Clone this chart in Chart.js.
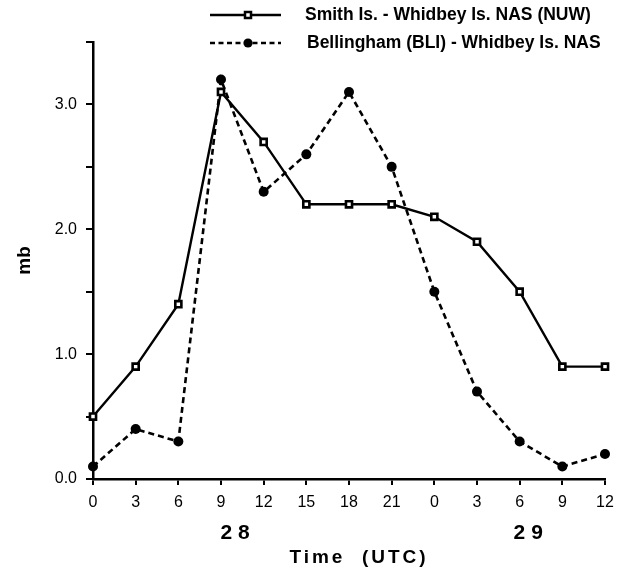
<!DOCTYPE html>
<html><head><meta charset="utf-8">
<script src="https://cdn.jsdelivr.net/npm/chart.js@4/dist/chart.umd.min.js"></script>
<style>html,body{margin:0;padding:0;background:#fff}#wrap{width:623px;height:572px}</style>
</head><body><div id="wrap"><canvas id="c" width="623" height="572"></canvas></div>
<script>
const hourLabels = ['0','3','6','9','12','15','18','21','0','3','6','9','12'];
const smithValues = [0.5, 0.9, 1.4, 3.1, 2.7, 2.2, 2.2, 2.2, 2.1, 1.9, 1.5, 0.9, 0.9];
const bellinghamValues = [0.1, 0.4, 0.3, 3.2, 2.3, 2.6, 3.1, 2.5, 1.5, 0.7, 0.3, 0.1, 0.2];
const dayLabels = ['28', '29'];
const seriesNames = ['Smith Is. - Whidbey Is. NAS (NUW)', 'Bellingham (BLI) - Whidbey Is. NAS'];
const xTitle = 'Time  (UTC)';
const yTitle = 'mb';

const FF = '"Liberation Sans", Arial, Helvetica, sans-serif';

const annot = {
  id: 'annot',
  afterDraw(chart) {
    const ctx = chart.ctx;
    const xs = chart.scales.x;
    ctx.save();
    // legend
    const rows = [
      {y: 15, dash: [], tx: 305},
      {y: 43, dash: [5, 3.5], tx: 307}
    ];
    rows.forEach((r, i) => {
      ctx.strokeStyle = '#000';
      ctx.lineWidth = 2.3;
      ctx.setLineDash(r.dash);
      ctx.beginPath(); ctx.moveTo(210, r.y); ctx.lineTo(281, r.y); ctx.stroke();
      ctx.setLineDash([]);
      if (i === 0) {
        ctx.fillStyle = '#fff';
        ctx.fillRect(245, r.y - 3, 6, 6);
        ctx.lineWidth = 2.5;
        ctx.strokeRect(245, r.y - 3, 6, 6);
      } else {
        ctx.fillStyle = '#000';
        ctx.beginPath(); ctx.arc(248, r.y, 4.6, 0, Math.PI * 2); ctx.fill();
      }
      ctx.fillStyle = '#000';
      ctx.font = 'bold 17.5px ' + FF;
      ctx.textAlign = 'left';
      ctx.textBaseline = 'middle';
      ctx.fillText(seriesNames[i], r.tx, r.y);
    });
    // day labels
    ctx.font = 'bold 21px ' + FF;
    ctx.textAlign = 'center';
    ctx.textBaseline = 'middle';
    ctx.letterSpacing = '6px';
    const dayPos = [3.33, 10.2];
    dayLabels.forEach((d, i) => {
      ctx.fillText(d, xs.getPixelForValue(dayPos[i]) + 3, 533);
    });
    // x title
    ctx.font = 'bold 19px ' + FF;
    ctx.letterSpacing = '3px';
    ctx.fillText(xTitle, xs.getPixelForValue(6.2) + 1.5, 558);
    ctx.letterSpacing = '0px';
    ctx.restore();
  }
};

new Chart(document.getElementById('c'), {
  type: 'line',
  data: {
    labels: hourLabels,
    datasets: [
      {
        label: seriesNames[0],
        data: smithValues,
        borderColor: '#000',
        borderWidth: 2.4,
        backgroundColor: '#fff',
        pointStyle: 'rect',
        pointRadius: 4.3,
        pointBorderWidth: 2.6,
        pointBackgroundColor: '#fff',
        pointBorderColor: '#000',
        tension: 0,
        fill: false,
        clip: false
      },
      {
        label: seriesNames[1],
        data: bellinghamValues,
        borderColor: '#000',
        borderWidth: 2.6,
        borderDash: [6, 4],
        pointStyle: 'circle',
        pointRadius: 5,
        pointBorderWidth: 0,
        pointBackgroundColor: '#000',
        pointBorderColor: '#000',
        tension: 0,
        fill: false,
        clip: false
      }
    ]
  },
  options: {
    responsive: false,
    animation: false,
    devicePixelRatio: 1,
    layout: {padding: {top: 42, right: 18, left: 0, bottom: 0}},
    plugins: {legend: {display: false}, tooltip: {enabled: false}},
    scales: {
      x: {
        type: 'category',
        offset: false,
        grid: {display: true, drawOnChartArea: false, drawTicks: true, tickLength: 6, color: '#000', lineWidth: 2},
        border: {display: true, color: '#000', width: 2.5},
        ticks: {color: '#000', font: {family: FF, size: 16}, padding: 8, autoSkip: false, maxRotation: 0},
        afterFit(s) { s.height = 93; }
      },
      y: {
        min: 0,
        max: 3.5,
        grid: {display: true, drawOnChartArea: false, drawTicks: true, tickLength: 7, color: '#000', lineWidth: 2},
        border: {display: true, color: '#000', width: 2.5},
        ticks: {
          stepSize: 0.5,
          color: '#000',
          font: {family: FF, size: 16},
          padding: 9,
          callback: v => (Math.abs(v - Math.round(v)) < 1e-9 ? v.toFixed(1) : '')
        },
        title: {display: true, text: yTitle, color: '#000', font: {family: FF, size: 19, weight: 'bold'}, padding: {top: 13, bottom: 0}},
        afterFit(s) { s.width = 93; }
      }
    }
  },
  plugins: [annot]
});
</script>
</body></html>
